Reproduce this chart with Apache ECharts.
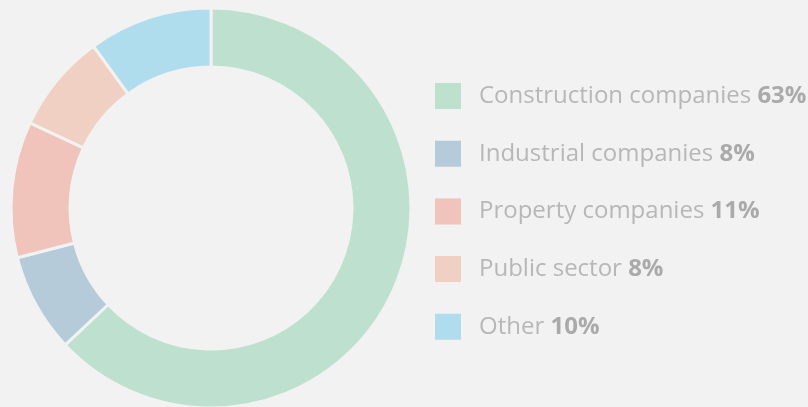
<!DOCTYPE html>
<html>
<head>
<meta charset="utf-8">
<script src="https://cdn.jsdelivr.net/npm/echarts@6/dist/echarts.min.js"></script>
<style>
  html, body { margin: 0; padding: 0; background: #f2f2f2; }
  #chart { width: 808px; height: 407px; }
</style>
</head>
<body>
<div id="chart"></div>
<script>
const categories = ['Construction companies', 'Industrial companies', 'Property companies', 'Public sector', 'Other']
const shares = [63, 8, 11, 8, 10]
const colors = ['#bde0cf', '#b6cbd9', '#f0c3bb', '#f0d0c3', '#b0dded']

const pieData = categories.map((name, i) => ({ name: name, value: shares[i] }))

const chart = echarts.init(document.getElementById('chart'))
chart.setOption({
  backgroundColor: '#f2f2f2',
  color: colors,
  animation: false,
  legend: {
    orient: 'vertical',
    left: 433,
    top: 81,
    padding: 0,
    icon: 'rect',
    itemWidth: 28,
    itemHeight: 28,
    itemGap: 27.7,
    selectedMode: false,
    formatter: (name) => {
      const i = categories.indexOf(name)
      return '{n|' + name + ' }{p|' + shares[i] + '%}'
    },
    textStyle: {
      padding: [0, 0, 0, 12],
      rich: {
        n: { fontFamily: 'Open Sans', fontSize: 24, lineHeight: 28, color: '#b7b7b7' },
        p: { fontFamily: 'Open Sans', fontSize: 24, lineHeight: 28, fontWeight: 'bold', color: '#aaaaaa' }
      }
    }
  },
  series: [{
    type: 'pie',
    center: [211, 208],
    radius: [141, 200],
    startAngle: 90,
    clockwise: true,
    label: { show: false },
    labelLine: { show: false },
    emphasis: { disabled: true },
    itemStyle: { borderColor: '#f2f2f2', borderWidth: 3 },
    data: pieData
  }]
})
</script>
</body>
</html>
